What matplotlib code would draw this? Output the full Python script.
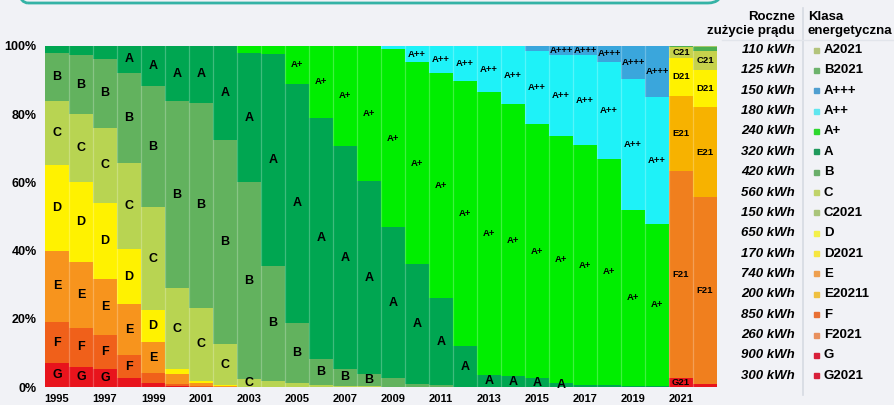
import matplotlib
matplotlib.use("Agg")
import matplotlib.pyplot as plt
from matplotlib.patches import FancyBboxPatch
from matplotlib.transforms import IdentityTransform
import numpy as np

plt.rcParams['font.family'] = ['Liberation Sans', 'DejaVu Sans']

years = list(range(1995, 2023))

# share (%) of each energy class per year, bottom to top
G    = [7.0, 6.0, 5.2, 2.5, 1.3, 0.3, 0.0, 0, 0, 0, 0, 0, 0, 0, 0, 0, 0, 0, 0, 0, 0, 0, 0, 0, 0, 0, 0, 0]
F    = [12.0, 11.3, 10.1, 6.8, 2.7, 0.7, 0.3, 0, 0, 0, 0, 0, 0, 0, 0, 0, 0, 0, 0, 0, 0, 0, 0, 0, 0, 0, 0, 0]
E    = [21.0, 19.3, 16.4, 15.0, 9.3, 2.7, 0.8, 0.3, 0, 0, 0, 0, 0, 0, 0, 0, 0, 0, 0, 0, 0, 0, 0, 0, 0, 0, 0, 0]
D    = [25.0, 23.4, 22.3, 16.2, 9.2, 1.5, 0.8, 0.3, 0, 0, 0, 0, 0, 0, 0, 0, 0, 0, 0, 0, 0, 0, 0, 0, 0, 0, 0, 0]
C    = [19.0, 20.0, 22.0, 25.3, 30.2, 23.8, 21.4, 11.9, 2.3, 1.8, 1.2, 0.5, 0.4, 0.2, 0.1, 0, 0, 0, 0, 0, 0, 0, 0, 0, 0, 0, 0, 0]
B    = [14.0, 17.4, 20.2, 26.4, 35.5, 54.8, 60.0, 60.0, 57.7, 33.8, 17.7, 7.8, 4.8, 3.5, 2.4, 1.0, 0.5, 0, 0, 0, 0, 0, 0, 0, 0, 0, 0, 0]
A    = [2.0, 2.6, 3.8, 7.8, 11.8, 16.2, 16.7, 27.5, 38.0, 62.2, 70.1, 70.7, 65.5, 56.6, 44.5, 35.0, 25.5, 12.0, 3.5, 3.2, 2.5, 1.3, 0.5, 0.5, 0.4, 0.3, 0, 0]
Ap   = [0, 0, 0, 0, 0, 0, 0, 0, 2.0, 2.2, 11.0, 21.0, 29.3, 39.7, 52.0, 59.2, 66.2, 77.8, 82.9, 79.7, 74.5, 72.2, 70.4, 66.5, 51.4, 47.5, 0, 0]
App  = [0, 0, 0, 0, 0, 0, 0, 0, 0, 0, 0, 0, 0, 0, 1.0, 4.8, 7.8, 10.2, 13.6, 17.1, 21.6, 24.0, 26.5, 28.4, 38.4, 37.3, 0, 0]
Appp = [0, 0, 0, 0, 0, 0, 0, 0, 0, 0, 0, 0, 0, 0, 0, 0, 0, 0, 0, 0, 1.4, 2.5, 2.6, 4.6, 9.8, 14.9, 0, 0]
G21  = [0]*26 + [2.7, 0.8]
F21  = [0]*26 + [60.6, 54.9]
E21  = [0]*26 + [22.1, 26.3]
D21  = [0]*26 + [11.2, 11.1]
C21  = [0]*26 + [3.2, 5.5]
B21  = [0]*26 + [0.2, 1.0]
A21  = [0]*26 + [0.0, 0.4]

series_names = ['G', 'F', 'E', 'D', 'C', 'B', 'A', 'A+', 'A++', 'A+++',
                'G21', 'F21', 'E21', 'D21', 'C21', 'B21', 'A21']
series_vals = [G, F, E, D, C, B, A, Ap, App, Appp, G21, F21, E21, D21, C21, B21, A21]
series_cols = ['#e8141c', '#f0601a', '#f7941d', '#fff200', '#b8d452', '#62b25e', '#00a651',
               '#00ee00', '#1ef2f8', '#3aa6dc',
               '#e8141c', '#f07f1e', '#f7b200', '#fff200', '#c6d24c', '#4caf50', '#a8c86a']

hidden_labels = {(1996, 'A'), (1997, 'A'), (1998, 'G'), (1999, 'F'), (2000, 'E'), (2009, 'B')}
extra_labels = {(2016, 'A')}

# legend table
legend_kwh = ['110 kWh', '125 kWh', '150 kWh', '180 kWh', '240 kWh', '320 kWh', '420 kWh', '560 kWh',
              '150 kWh', '650 kWh', '170 kWh', '740 kWh', '200 kWh', '850 kWh', '260 kWh', '900 kWh', '300 kWh']
legend_cls = ['A2021', 'B2021', 'A+++', 'A++', 'A+', 'A', 'B', 'C',
              'C2021', 'D', 'D2021', 'E', 'E20211', 'F', 'F2021', 'G', 'G2021']
legend_cols = ['#b3c47c', '#6db36c', '#4f9fd0', '#5fe6ef', '#2ed82e', '#1f9a5c', '#6aae6a', '#c0d36a',
               '#a9c47a', '#f3f04a', '#f6e640', '#eea050', '#efc040', '#e87034', '#e8905e', '#d8203a', '#d8203a']

yticks = [0, 20, 40, 60, 80, 100]
xticks = list(range(1995, 2022, 2))

BG = '#f1f2f6'
W, H = 895, 405
fig = plt.figure(figsize=(W / 100, H / 100), dpi=100, facecolor=BG)
ax = fig.add_axes([45 / W, (H - 387) / H, 672 / W, (387 - 46) / H])
ax.set_facecolor(BG)

bottom = np.zeros(len(years))
for name, vals, col in zip(series_names, series_vals, series_cols):
    v = np.array(vals, dtype=float)
    ax.bar(years, v, bottom=bottom, width=1.0, color=col, linewidth=0)
    for i, yr in enumerate(years):
        show = (v[i] >= 2.3 and (yr, name) not in hidden_labels) or (yr, name) in extra_labels
        if show:
            fs = 9 if len(name) == 1 else 6.8
            ax.text(yr, bottom[i] + v[i] / 2, name, ha='center', va='center',
                    fontsize=fs, fontweight='bold', color='black')
    bottom += v

for yr in years[1:]:
    ax.axvline(yr - 0.5, color='white', alpha=0.25, lw=0.9)

ax.set_xlim(1994.5, 2022.5)
ax.set_ylim(0, 100)
ax.set_yticks(yticks)
ax.set_yticklabels([f'{t}%' for t in yticks], fontsize=9, fontweight='bold')
ax.set_xticks(xticks)
ax.set_xticklabels([str(t) for t in xticks], fontsize=8, fontweight='bold')
ax.tick_params(axis='y', length=0, pad=6)
ax.tick_params(axis='x', length=0, pad=5)
for s in ax.spines.values():
    s.set_visible(False)

def fx(x):
    return x / W

def fy(y):
    return 1 - y / H

# legend headers
fig.text(fx(795), fy(17), 'Roczne', ha='right', va='center', fontsize=9.5, fontweight='bold')
fig.text(fx(795), fy(31), 'zużycie prądu', ha='right', va='center', fontsize=9.5, fontweight='bold')
fig.text(fx(808), fy(17), 'Klasa', ha='left', va='center', fontsize=9.5, fontweight='bold')
fig.text(fx(808), fy(31), 'energetyczna', ha='left', va='center', fontsize=9.5, fontweight='bold')

fig.add_artist(plt.Line2D([fx(803), fx(803)], [fy(8), fy(395)], color='#d6dae2', lw=1.2))
fig.add_artist(plt.Line2D([fx(722), fx(895)], [fy(40), fy(40)], color='#e2e5eb', lw=1.0))

for k, (kwh, cls, col) in enumerate(zip(legend_kwh, legend_cls, legend_cols)):
    y = 50 + k * 20.36
    fig.text(fx(795), fy(y), kwh, ha='right', va='center', fontsize=9.5,
             fontweight='bold', fontstyle='italic')
    fig.add_artist(plt.Rectangle((fx(814.5), fy(y + 2.5)), 5 / W, 5 / H, color=col,
                                 transform=fig.transFigure))
    fig.text(fx(824), fy(y), cls, ha='left', va='center', fontsize=9.5, fontweight='bold')

# teal frame of the header box above the chart
box = FancyBboxPatch((14, H - 3), 708, 60, boxstyle='round,pad=0,rounding_size=14',
                     transform=IdentityTransform(), fill=False, edgecolor='#35b3a6', lw=2.0)
fig.add_artist(box)

fig.savefig('out.png', dpi=100, facecolor=BG)
